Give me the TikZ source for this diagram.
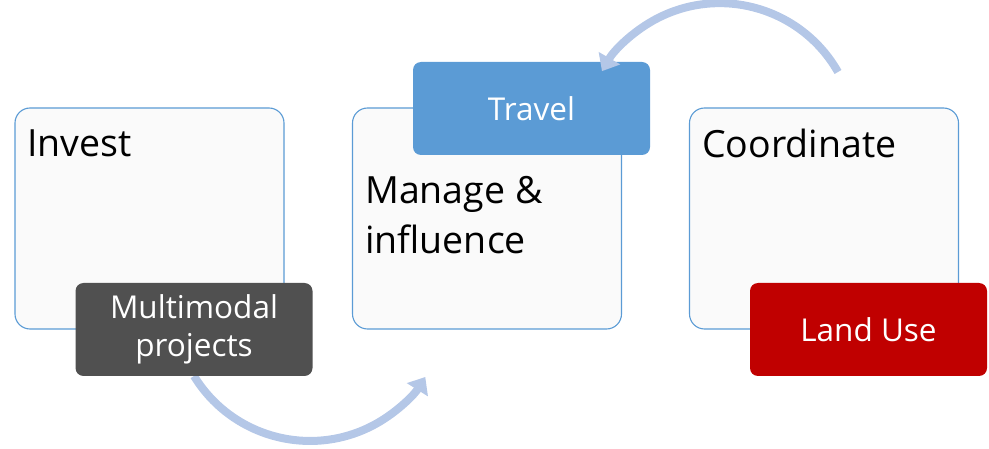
\documentclass[tikz,border=0pt]{standalone}
\usepackage{fontspec}
\setmainfont{Open Sans}
\usetikzlibrary{arrows.meta}
\definecolor{boxline}{HTML}{5B9BD5}
\definecolor{boxfill}{HTML}{FAFAFA}
\definecolor{arrowtint}{HTML}{B4C7E7}
\definecolor{tagdark}{HTML}{505050}
\definecolor{tagblue}{HTML}{5B9BD5}
\definecolor{tagred}{HTML}{C00000}

\begin{document}
\begin{tikzpicture}[x=1pt,y=-1pt,
  bigbox/.style={draw=boxline,line width=1.1pt,fill=boxfill,rounded corners=15pt,minimum width=269pt,minimum height=221pt,inner sep=0pt},
  tagbox/.style={rounded corners=8pt,minimum width=237pt,minimum height=93pt,inner sep=0pt,text=white,align=center,font=\fontsize{31.5}{38}\selectfont},
  head/.style={anchor=west,align=left,inner sep=0pt,font=\fontsize{37.5}{50}\selectfont},
  cycle/.style={line width=8pt,draw=arrowtint,-{Triangle[length=15pt,width=24pt]}}]
\useasboundingbox (0,0) rectangle (989,449);
% left box
\node[bigbox] (inv) at (149.5,218.5) {};
\node[head] (invT) at (27,143) {Invest};
% middle box
\node[bigbox] (mgt) at (487,218.5) {};
\node[head] (mgtT) at (365,215) {Manage \&\\influence};
% right box
\node[bigbox] (crd) at (824,218.5) {};
\node[head] (crdT) at (702,143) {Coordinate};
% lower arrow
\draw[cycle] (194,376) arc[start angle=148.5,end angle=32,radius=136];
% tags
\node[tagbox,fill=tagdark] (mm) at (194,329.5) {Multimodal\\projects};
\node[tagbox,fill=tagblue] (trv) at (531.5,108.5) {Travel};
\node[tagbox,fill=tagred] (lu) at (868.5,329.5) {Land Use};
% upper arrow
\coordinate (top) at (838,72);
\draw[cycle] (top) arc[start angle=-29.6,end angle=-150,radius=136];
\end{tikzpicture}
\end{document}
